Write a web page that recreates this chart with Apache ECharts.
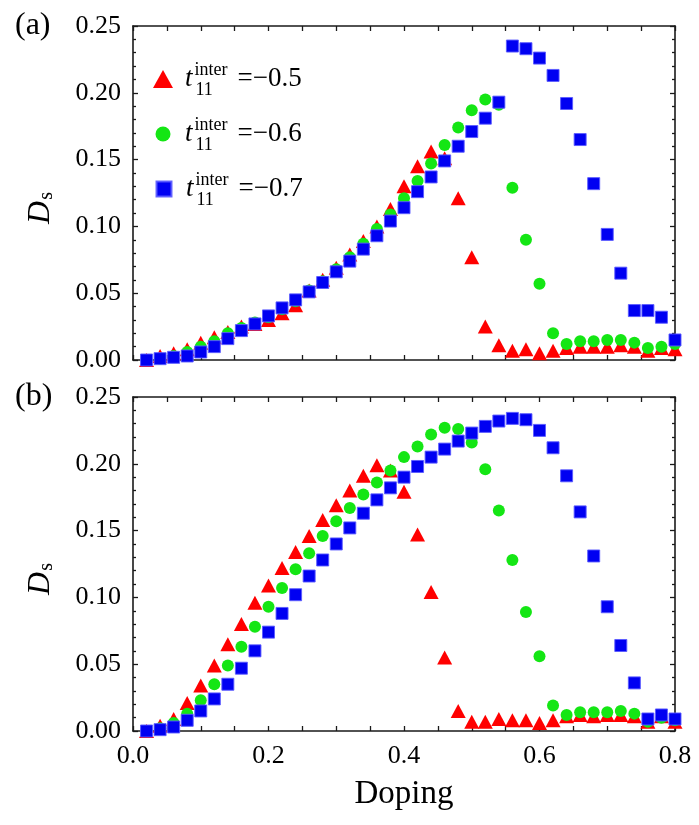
<!DOCTYPE html>
<html><head><meta charset="utf-8">
<script src="https://cdn.jsdelivr.net/npm/echarts@6/dist/echarts.min.js"></script>
<style>html,body{margin:0;padding:0;background:#fff}#c{width:699px;height:825px}</style>
</head><body><div id="c"></div><script>
// ---- data ----
const doping = [0.02,0.04,0.06,0.08,0.10,0.12,0.14,0.16,0.18,0.20,
                0.22,0.24,0.26,0.28,0.30,0.32,0.34,0.36,0.38,0.40,
                0.42,0.44,0.46,0.48,0.50,0.52,0.54,0.56,0.58,0.60,
                0.62,0.64,0.66,0.68,0.70,0.72,0.74,0.76,0.78,0.80];
const tInter = ['−0.5','−0.6','−0.7'];
// panel (a)
const redA   = [0.000,0.003,0.005,0.008,0.013,0.017,0.021,0.025,0.027,0.030,
                0.035,0.041,0.052,0.060,0.069,0.079,0.089,0.100,0.113,0.130,
                0.145,0.156,0.151,0.121,0.077,0.025,0.011,0.007,0.008,0.005,
                0.007,0.009,0.010,0.010,0.010,0.011,0.010,0.007,0.009,0.008];
const greenA = [0.000,0.001,0.003,0.006,0.010,0.014,0.020,0.024,0.028,0.032,
                0.038,0.044,0.052,0.059,0.068,0.077,0.087,0.098,0.109,0.121,
                0.134,0.147,0.161,0.174,0.187,0.195,0.191,0.129,0.090,0.057,
                0.020,0.012,0.014,0.014,0.015,0.015,0.013,0.009,0.010,0.012];
const blueA  = [0.000,0.001,0.002,0.003,0.006,0.010,0.016,0.022,0.027,0.033,
                0.039,0.045,0.051,0.058,0.066,0.074,0.083,0.093,0.104,0.114,
                0.126,0.137,0.149,0.160,0.171,0.181,0.193,0.235,0.233,0.226,
                0.213,0.192,0.165,0.132,0.094,0.065,0.037,0.037,0.032,0.015];
// panel (b)
const redB   = [0.000,0.004,0.009,0.021,0.034,0.049,0.065,0.080,0.096,0.109,
                0.122,0.134,0.146,0.158,0.169,0.180,0.191,0.199,0.195,0.179,
                0.147,0.104,0.055,0.015,0.007,0.007,0.009,0.008,0.008,0.006,
                0.008,0.011,0.012,0.011,0.012,0.012,0.011,0.007,0.011,0.007];
const greenB = [0.000,0.002,0.006,0.013,0.023,0.035,0.049,0.063,0.078,0.093,
                0.107,0.121,0.133,0.146,0.157,0.167,0.177,0.186,0.195,0.205,
                0.213,0.222,0.227,0.226,0.216,0.196,0.165,0.128,0.089,0.056,
                0.019,0.012,0.014,0.014,0.014,0.015,0.013,0.007,0.010,0.008];
const blueB  = [0.000,0.001,0.003,0.008,0.015,0.024,0.035,0.047,0.060,0.074,
                0.088,0.102,0.116,0.128,0.140,0.152,0.163,0.173,0.182,0.190,
                0.198,0.205,0.211,0.217,0.223,0.228,0.232,0.234,0.233,0.225,
                0.212,0.191,0.164,0.131,0.093,0.064,0.036,0.009,0.012,0.009];
const xTickLabels = ['0.0','0.2','0.4','0.6','0.8'];
const yTickLabels = ['0.00','0.05','0.10','0.15','0.20','0.25'];
const panelLabels = ['(a)','(b)'];

// ---- style ----
const FONT = 'Liberation Serif';
const AX = '#1a1a1a';
const colors = ['#ff0000', '#14e614', '#0000f2'];
const symbols = ['triangle', 'circle', 'rect'];
const sizes = [[15,14], 12, 12];

function pairs(ys){ return doping.map((x,i)=>[x, ys[i]]); }

function xAxis(grid, pos, labels, name){
  return {
    type:'value', gridIndex:grid, position:pos, min:0, max:0.8, interval:0.2,
    axisLine:{show:true, onZero:false, lineStyle:{color:AX, width:1.6}},
    axisTick:{show:true, inside:true, length:5, lineStyle:{color:AX, width:1.3}},
    minorTick:{show:true, splitNumber:4, length:5, lineStyle:{color:AX, width:1.3}},
    splitLine:{show:false},
    axisLabel:{show:labels, margin:12, color:'#000', fontFamily:FONT, fontSize:26,
      formatter:v=>xTickLabels[Math.round(v/0.2)]},
    name:name||'', nameLocation:'middle', nameGap:47,
    nameTextStyle:{fontFamily:FONT, fontSize:33, color:'#000'}
  };
}
function yAxis(grid, pos, labels){
  return {
    type:'value', gridIndex:grid, position:pos, min:0, max:0.25, interval:0.05,
    axisLine:{show:true, onZero:false, lineStyle:{color:AX, width:1.6}},
    axisTick:{show:true, inside:true, length:5, lineStyle:{color:AX, width:1.3}},
    minorTick:{show:true, splitNumber:5, length:3, lineStyle:{color:AX, width:1.3}},
    splitLine:{show:false},
    axisLabel:{show:labels, margin:12, color:'#000', fontFamily:FONT, fontSize:26,
      formatter:v=>yTickLabels[Math.round(v/0.05)]},
    name: labels ? '{d|D}{s|s}' : '', nameLocation:'middle', nameGap:76, nameRotate:90,
    nameTextStyle:{color:'#000', padding:[0,30,0,0],
      rich:{ d:{fontFamily:FONT, fontStyle:'italic', fontSize:32, lineHeight:32, color:'#000', verticalAlign:'middle'},
             s:{fontFamily:FONT, fontSize:20, lineHeight:32, padding:[12,0,0,1], color:'#000', verticalAlign:'middle'} }}
  };
}

const seriesList = [];
[[redA,greenA,blueA],[redB,greenB,blueB]].forEach((set, p)=>{
  set.forEach((ys, k)=>{
    seriesList.push({
      type:'scatter', name:tInter[k], xAxisIndex:p*2, yAxisIndex:p*2,
      data:pairs(ys), symbol:symbols[k], symbolSize:sizes[k], clip:false,
      itemStyle:{color:colors[k], opacity:1,
        borderColor: k===2 ? 'rgba(90,90,255,0.9)' : colors[k], borderWidth: k===2 ? 1 : 0},
      emphasis:{disabled:true}
    });
  });
});

function legendRich(padLeft){
  return {
    t:  {fontFamily:FONT, fontStyle:'italic', fontSize:27, lineHeight:26, padding:[0,2,0,padLeft], color:'#000', verticalAlign:'middle'},
    sup:{fontFamily:FONT, fontSize:18, width:1, lineHeight:26, padding:[0,0,18,0], color:'#000', verticalAlign:'middle'},
    sub:{fontFamily:FONT, fontSize:18, width:42, lineHeight:26, padding:[22,0,0,0], color:'#000', verticalAlign:'middle'},
    eq: {fontFamily:FONT, fontSize:27, lineHeight:26, color:'#000', verticalAlign:'middle'}
  };
}
const legendTops = [59, 114, 169];
const legendW = [20, 15, 15];
const legendH = [18, 15, 15];
const legends = tInter.map((nm, k)=>({
  show:true, selectedMode:false, orient:'vertical',
  left:163 - legendW[k]/2, top:legendTops[k], padding:0,
  itemWidth:legendW[k], itemHeight:legendH[k], itemGap:0, symbolKeepAspect:true,
  data:[{name:nm, icon:symbols[k]}],
  formatter: n => '{t|t}{sup|inter}{sub|11}{eq|=' + n + '}',
  textStyle:{rich:legendRich(7 + (20 - legendW[k])/2)}
}));

const option = {
  animation:false,
  backgroundColor:'#fff',
  title: panelLabels.map((t,i)=>({text:t, left:15, top: i===0 ? 10 : 381, padding:0,
    textStyle:{fontFamily:FONT, fontSize:32, fontWeight:'normal', color:'#000'}})),
  grid:[{left:133, top:26, width:542, height:334},
        {left:133, top:397, width:542, height:334}],
  xAxis:[xAxis(0,'bottom',false), xAxis(0,'top',false),
         xAxis(1,'bottom',true,'Doping'), xAxis(1,'top',false)],
  yAxis:[yAxis(0,'left',true), yAxis(0,'right',false),
         yAxis(1,'left',true), yAxis(1,'right',false)],
  legend: legends,
  series: seriesList
};
const chart = echarts.init(document.getElementById('c'), null, {renderer:'canvas'});
chart.setOption(option);
</script></body></html>
